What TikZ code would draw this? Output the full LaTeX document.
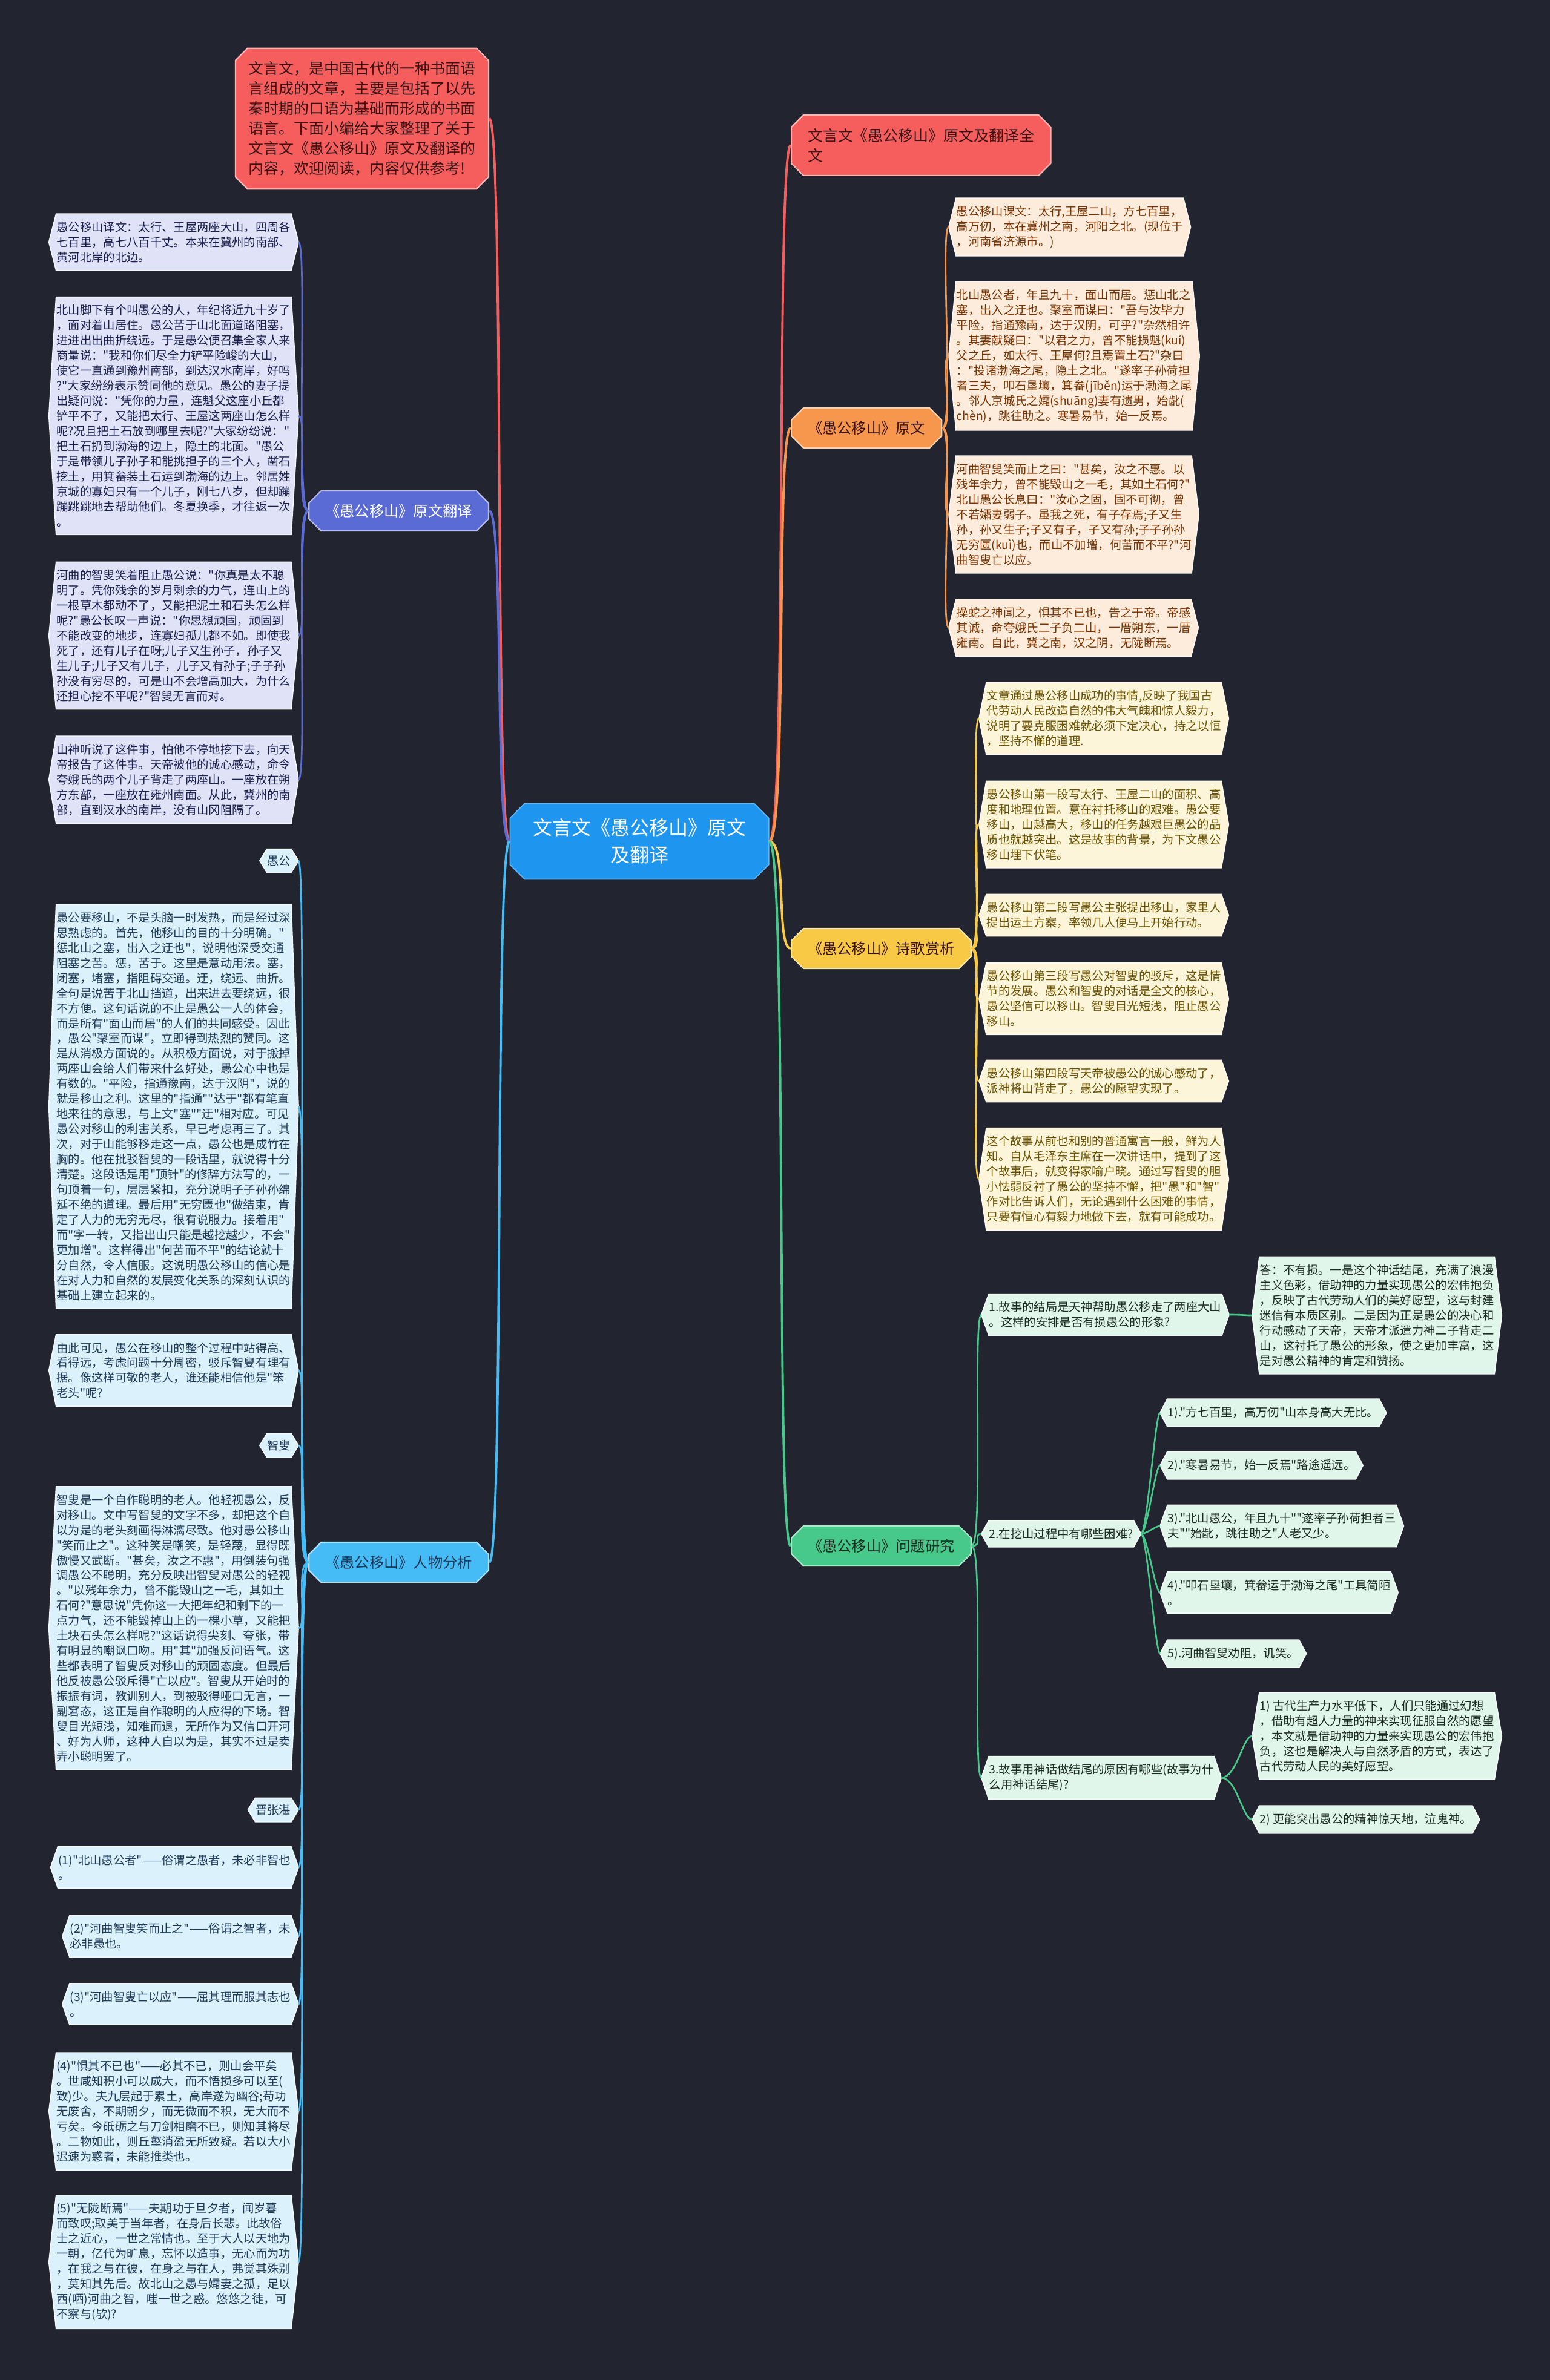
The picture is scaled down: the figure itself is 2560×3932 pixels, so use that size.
\documentclass[tikz,border=0pt]{standalone}
\usepackage{fontspec}
\setmainfont{Noto Sans CJK SC}
\newfontfamily\cjkf{Noto Sans CJK SC}
\usetikzlibrary{calc,shapes.misc}
\definecolor{bgc}{HTML}{22252F}
\definecolor{ctrc}{HTML}{1E95EE}
\definecolor{redc}{HTML}{F65E5E}
\definecolor{redt}{HTML}{3A1414}
\definecolor{orc}{HTML}{F7974E}
\definecolor{orl}{HTML}{FDECDC}
\definecolor{ort}{HTML}{7A3300}
\definecolor{yec}{HTML}{F8C945}
\definecolor{yel}{HTML}{FDF5D9}
\definecolor{yet}{HTML}{6B5200}
\definecolor{grc}{HTML}{48C98C}
\definecolor{grl}{HTML}{E1F6EA}
\definecolor{grt}{HTML}{1C2B22}
\definecolor{blc}{HTML}{5A6BD6}
\definecolor{bll}{HTML}{E0E3F7}
\definecolor{blt}{HTML}{1B2050}
\definecolor{cyc}{HTML}{45BCF5}
\definecolor{cyl}{HTML}{DBF1FB}
\definecolor{cyt}{HTML}{1E3A5A}
\newcommand\leaffont{\cjkf\fontsize{5.5pt}{7.1pt}\selectfont}
\newcommand\brfont{\cjkf\fontsize{6.9pt}{9.1pt}\selectfont}
\newcommand\ctrfont{\cjkf\fontsize{9.1pt}{12.8pt}\selectfont}
\newcommand\notefont{\cjkf\fontsize{7.1pt}{9.4pt}\selectfont}
\newcommand\hexbg[2]{\filldraw[fill=#2,draw=white!60!#2,line width=.5pt] (#1.west) -- ($(#1.north west)+(12,0)$) -- ($(#1.north east)+(-12,0)$) -- (#1.east) -- ($(#1.south east)+(-12,0)$) -- ($(#1.south west)+(12,0)$) -- cycle;}
\pgfdeclarelayer{bg}
\pgfsetlayers{bg,main}
\tikzset{
  ctrv/.style={chamfered rectangle,chamfered rectangle xsep=0.12cm,chamfered rectangle ysep=0.12cm,fill=ctrc,draw=ctrc!70!white,line width=.5pt,text=white,align=center,font=\ctrfont,minimum width=4.27cm,minimum height=1.25cm},
  brv/.style={chamfered rectangle,chamfered rectangle xsep=0.1cm,chamfered rectangle ysep=0.1cm,fill=#1,draw=#1!45!white,line width=.6pt,font=\brfont,inner xsep=0.17cm,minimum height=0.58cm},
  notev/.style={chamfered rectangle,chamfered rectangle xsep=0.1cm,chamfered rectangle ysep=0.1cm,fill=redc,draw=redc!45!white,line width=.6pt,text=redt,align=left,font=\notefont,minimum width=4.16cm,minimum height=2.27cm},
  leafv/.style={align=left,inner xsep=0.12cm,inner ysep=0.12cm,font=\leaffont,text=#1},
  tagv/.style={inner xsep=0.12cm,inner ysep=0.1cm,font=\leaffont,text=cyt},
  lnk/.style={line width=1.1pt,#1},
  sublnk/.style={line width=.75pt,#1}
}
\begin{document}
\begin{tikzpicture}[x=0.01cm,y=-0.01cm]
  \useasboundingbox (0,0) rectangle (2560,3932);
  \node[ctrv] (ctr) at (1056,1390) {文言文《愚公移山》原文\\及翻译};
  \node[notev,anchor=east] (note) at (808,196) {文言文，是中国古代的一种书面语\\言组成的文章，主要是包括了以先\\秦时期的口语为基础而形成的书面\\语言。下面小编给大家整理了关于\\文言文《愚公移山》原文及翻译的\\内容，欢迎阅读，内容仅供参考!};
  % left branches
  \node[brv=blc,text=white,anchor=east] (trans) at (808,844) {《愚公移山》原文翻译};
  \node[brv=cyc,text=cyt,anchor=east] (chars) at (808,2581) {《愚公移山》人物分析};
  \node[leafv=blt,anchor=east] (L1) at (493,400) {愚公移山译文：太行、王屋两座大山，四周各\\七百里，高七八百千丈。本来在冀州的南部、\\黄河北岸的北边。};
  \node[leafv=blt,anchor=east] (L2) at (493,687) {北山脚下有个叫愚公的人，年纪将近九十岁了\\，面对着山居住。愚公苦于山北面道路阻塞，\\进进出出曲折绕远。于是愚公便召集全家人来\\商量说："我和你们尽全力铲平险峻的大山，\\使它一直通到豫州南部，到达汉水南岸，好吗\\?"大家纷纷表示赞同他的意见。愚公的妻子提\\出疑问说："凭你的力量，连魁父这座小丘都\\铲平不了，又能把太行、王屋这两座山怎么样\\呢?况且把土石放到哪里去呢?"大家纷纷说："\\把土石扔到渤海的边上，隐土的北面。"愚公\\于是带领儿子孙子和能挑担子的三个人，凿石\\挖土，用箕畚装土石运到渤海的边上。邻居姓\\京城的寡妇只有一个儿子，刚七八岁，但却蹦\\蹦跳跳地去帮助他们。冬夏换季，才往返一次\\。};
  \node[leafv=blt,anchor=east] (L3) at (493,1050) {河曲的智叟笑着阻止愚公说："你真是太不聪\\明了。凭你残余的岁月剩余的力气，连山上的\\一根草木都动不了，又能把泥土和石头怎么样\\呢?"愚公长叹一声说："你思想顽固，顽固到\\不能改变的地步，连寡妇孤儿都不如。即使我\\死了，还有儿子在呀;儿子又生孙子，孙子又\\生儿子;儿子又有儿子，儿子又有孙子;子子孙\\孙没有穷尽的，可是山不会增高加大，为什么\\还担心挖不平呢?"智叟无言而对。};
  \node[leafv=blt,anchor=east] (L4) at (493,1288) {山神听说了这件事，怕他不停地挖下去，向天\\帝报告了这件事。天帝被他的诚心感动，命令\\夸娥氏的两个儿子背走了两座山。一座放在朔\\方东部，一座放在雍州南面。从此，冀州的南\\部，直到汉水的南岸，没有山冈阻隔了。};
  \node[tagv,anchor=east] (tg1) at (493,1422) {愚公};
  \node[leafv=cyt,anchor=east] (P1) at (493,1828) {愚公要移山，不是头脑一时发热，而是经过深\\思熟虑的。首先，他移山的目的十分明确。"\\惩北山之塞，出入之迂也"，说明他深受交通\\阻塞之苦。惩，苦于。这里是意动用法。塞，\\闭塞，堵塞，指阻碍交通。迂，绕远、曲折。\\全句是说苦于北山挡道，出来进去要绕远，很\\不方便。这句话说的不止是愚公一人的体会，\\而是所有"面山而居"的人们的共同感受。因此\\，愚公"聚室而谋"，立即得到热烈的赞同。这\\是从消极方面说的。从积极方面说，对于搬掉\\两座山会给人们带来什么好处，愚公心中也是\\有数的。"平险，指通豫南，达于汉阴"，说的\\就是移山之利。这里的"指通""达于"都有笔直\\地来往的意思，与上文"塞""迂"相对应。可见\\愚公对移山的利害关系，早已考虑再三了。其\\次，对于山能够移走这一点，愚公也是成竹在\\胸的。他在批驳智叟的一段话里，就说得十分\\清楚。这段话是用"顶针"的修辞方法写的，一\\句顶着一句，层层紧扣，充分说明子子孙孙绵\\延不绝的道理。最后用"无穷匮也"做结束，肯\\定了人力的无穷无尽，很有说服力。接着用"\\而"字一转，又指出山只能是越挖越少，不会"\\更加增"。这样得出"何苦而不平"的结论就十\\分自然，令人信服。这说明愚公移山的信心是\\在对人力和自然的发展变化关系的深刻认识的\\基础上建立起来的。};
  \node[leafv=cyt,anchor=east] (P2) at (493,2264) {由此可见，愚公在移山的整个过程中站得高、\\看得远，考虑问题十分周密，驳斥智叟有理有\\据。像这样可敬的老人，谁还能相信他是"笨\\老头"呢?};
  \node[tagv,anchor=east] (tg2) at (493,2388) {智叟};
  \node[leafv=cyt,anchor=east] (P3) at (493,2690) {智叟是一个自作聪明的老人。他轻视愚公，反\\对移山。文中写智叟的文字不多，却把这个自\\以为是的老头刻画得淋漓尽致。他对愚公移山\\"笑而止之"。这种笑是嘲笑，是轻蔑，显得既\\傲慢又武断。"甚矣，汝之不惠"，用倒装句强\\调愚公不聪明，充分反映出智叟对愚公的轻视\\。"以残年余力，曾不能毁山之一毛，其如土\\石何?"意思说"凭你这一大把年纪和剩下的一\\点力气，还不能毁掉山上的一棵小草，又能把\\土块石头怎么样呢?"这话说得尖刻、夸张，带\\有明显的嘲讽口吻。用"其"加强反问语气。这\\些都表明了智叟反对移山的顽固态度。但最后\\他反被愚公驳斥得"亡以应"。智叟从开始时的\\振振有词，教训别人，到被驳得哑口无言，一\\副窘态，这正是自作聪明的人应得的下场。智\\叟目光短浅，知难而退，无所作为又信口开河\\、好为人师，这种人自以为是，其实不过是卖\\弄小聪明罢了。};
  \node[tagv,anchor=east] (tg3) at (493,2990) {晋张湛};
  \node[leafv=cyt,anchor=east] (Z1) at (493,3085) {(1)"北山愚公者"——俗谓之愚者，未必非智也\\。};
  \node[leafv=cyt,anchor=east] (Z2) at (493,3199) {(2)"河曲智叟笑而止之"——俗谓之智者，未\\必非愚也。};
  \node[leafv=cyt,anchor=east] (Z3) at (493,3311) {(3)"河曲智叟亡以应"——屈其理而服其志也\\。};
  \node[leafv=cyt,anchor=east] (Z4) at (493,3488) {(4)"惧其不已也"——必其不已，则山会平矣\\。世咸知积小可以成大，而不悟损多可以至(\\致)少。夫九层起于累土，高岸遂为幽谷;苟功\\无废舍，不期朝夕，而无微而不积，无大而不\\亏矣。今砥砺之与刀剑相磨不已，则知其将尽\\。二物如此，则丘壑消盈无所致疑。若以大小\\迟速为惑者，未能推类也。};
  \node[leafv=cyt,anchor=east] (Z5) at (493,3737) {(5)"无陇断焉"——夫期功于旦夕者，闻岁暮\\而致叹;取美于当年者，在身后长悲。此故俗\\士之近心，一世之常情也。至于大人以天地为\\一朝，亿代为旷息，忘怀以造事，无心而为功\\，在我之与在彼，在身之与在人，弗觉其殊别\\，莫知其先后。故北山之愚与孀妻之孤，足以\\西(哂)河曲之智，嗤一世之惑。悠悠之徒，可\\不察与(欤)?};
  % right branches
  \node[brv=redc,text=redt,font=\notefont,align=left,minimum width=4.16cm,minimum height=0.91cm,anchor=west] (full) at (1306,240) {文言文《愚公移山》原文及翻译全\\文};
  \node[brv=orc,text=redt,anchor=west] (orig) at (1306,707) {《愚公移山》原文};
  \node[brv=yec,text=redt,anchor=west] (poem) at (1306,1567) {《愚公移山》诗歌赏析};
  \node[brv=grc,text=grt,anchor=west] (ques) at (1306,2554) {《愚公移山》问题研究};
  \node[leafv=ort,anchor=west] (O1) at (1567,375) {愚公移山课文：太行,王屋二山，方七百里，\\高万仞，本在冀州之南，河阳之北。(现位于\\，河南省济源市。)};
  \node[leafv=ort,anchor=west] (O2) at (1567,588) {北山愚公者，年且九十，面山而居。惩山北之\\塞，出入之迂也。聚室而谋曰："吾与汝毕力\\平险，指通豫南，达于汉阴，可乎?"杂然相许\\。其妻献疑曰："以君之力，曾不能损魁(kuí)\\父之丘，如太行、王屋何?且焉置土石?"杂曰\\："投诸渤海之尾，隐土之北。"遂率子孙荷担\\者三夫，叩石垦壤，箕畚(jīběn)运于渤海之尾\\。邻人京城氏之孀(shuāng)妻有遗男，始龀(\\chèn)，跳往助之。寒暑易节，始一反焉。};
  \node[leafv=ort,anchor=west] (O3) at (1567,850) {河曲智叟笑而止之曰："甚矣，汝之不惠。以\\残年余力，曾不能毁山之一毛，其如土石何?"\\北山愚公长息曰："汝心之固，固不可彻，曾\\不若孀妻弱子。虽我之死，有子存焉;子又生\\孙，孙又生子;子又有子，子又有孙;子子孙孙\\无穷匮(kuì)也，而山不加增，何苦而不平?"河\\曲智叟亡以应。};
  \node[leafv=ort,anchor=west] (O4) at (1567,1037) {操蛇之神闻之，惧其不已也，告之于帝。帝感\\其诚，命夸娥氏二子负二山，一厝朔东，一厝\\雍南。自此，冀之南，汉之阴，无陇断焉。};
  \node[leafv=yet,anchor=west] (Y1) at (1617,1187) {文章通过愚公移山成功的事情,反映了我国古\\代劳动人民改造自然的伟大气魄和惊人毅力，\\说明了要克服困难就必须下定决心，持之以恒\\，坚持不懈的道理.};
  \node[leafv=yet,anchor=west] (Y2) at (1617,1362) {愚公移山第一段写太行、王屋二山的面积、高\\度和地理位置。意在衬托移山的艰难。愚公要\\移山，山越高大，移山的任务越艰巨愚公的品\\质也就越突出。这是故事的背景，为下文愚公\\移山埋下伏笔。};
  \node[leafv=yet,anchor=west] (Y3) at (1617,1512) {愚公移山第二段写愚公主张提出移山，家里人\\提出运土方案，率领几人便马上开始行动。};
  \node[leafv=yet,anchor=west] (Y4) at (1617,1650) {愚公移山第三段写愚公对智叟的驳斥，这是情\\节的发展。愚公和智叟的对话是全文的核心，\\愚公坚信可以移山。智叟目光短浅，阻止愚公\\移山。};
  \node[leafv=yet,anchor=west] (Y5) at (1617,1786) {愚公移山第四段写天帝被愚公的诚心感动了，\\派神将山背走了，愚公的愿望实现了。};
  \node[leafv=yet,anchor=west] (Y6) at (1617,1948) {这个故事从前也和别的普通寓言一般，鲜为人\\知。自从毛泽东主席在一次讲话中，提到了这\\个故事后，就变得家喻户晓。通过写智叟的胆\\小怯弱反衬了愚公的坚持不懈，把"愚"和"智"\\作对比告诉人们，无论遇到什么困难的事情，\\只要有恒心有毅力地做下去，就有可能成功。};
  \node[leafv=grt,anchor=west] (G1) at (1621,2172) {1.故事的结局是天神帮助愚公移走了两座大山\\。这样的安排是否有损愚公的形象?};
  \node[leafv=grt,anchor=west] (G1a) at (2068,2173) {答：不有损。一是这个神话结尾，充满了浪漫\\主义色彩，借助神的力量实现愚公的宏伟抱负\\，反映了古代劳动人们的美好愿望，这与封建\\迷信有本质区别。二是因为正是愚公的决心和\\行动感动了天帝，天帝才派遣力神二子背走二\\山，这衬托了愚公的形象，使之更加丰富，这\\是对愚公精神的肯定和赞扬。};
  \node[leafv=grt,anchor=west] (G2) at (1621,2534) {2.在挖山过程中有哪些困难?};
  \node[leafv=grt,anchor=west] (G2a) at (1916,2334) {1)."方七百里，高万仞"山本身高大无比。};
  \node[leafv=grt,anchor=west] (G2b) at (1916,2421) {2)."寒暑易节，始一反焉"路途遥远。};
  \node[leafv=grt,anchor=west] (G2c) at (1916,2521) {3)."北山愚公，年且九十""遂率子孙荷担者三\\夫""始龀，跳往助之"人老又少。};
  \node[leafv=grt,anchor=west] (G2d) at (1916,2631) {4)."叩石垦壤，箕畚运于渤海之尾"工具简陋\\。};
  \node[leafv=grt,anchor=west] (G2e) at (1916,2732) {5).河曲智叟劝阻，讥笑。};
  \node[leafv=grt,anchor=west] (G3) at (1621,2937) {3.故事用神话做结尾的原因有哪些(故事为什\\么用神话结尾)?};
  \node[leafv=grt,anchor=west] (G3a) at (2068,2868) {1) 古代生产力水平低下，人们只能通过幻想\\，借助有超人力量的神来实现征服自然的愿望\\，本文就是借助神的力量来实现愚公的宏伟抱\\负，这也是解决人与自然矛盾的方式，表达了\\古代劳动人民的美好愿望。};
  \node[leafv=grt,anchor=west] (G3b) at (2068,3006) {2) 更能突出愚公的精神惊天地，泣鬼神。};
  \begin{pgfonlayer}{bg}
    \fill[bgc] (0,0) rectangle (2560,3932);
    \foreach \c in {L1,L2,L3,L4} \hexbg{\c}{bll};
    \foreach \c in {tg1,tg2,tg3,P1,P2,P3,Z1,Z2,Z3,Z4,Z5} \hexbg{\c}{cyl};
    \foreach \c in {O1,O2,O3,O4} \hexbg{\c}{orl};
    \foreach \c in {Y1,Y2,Y3,Y4,Y5,Y6} \hexbg{\c}{yel};
    \foreach \c in {G1,G1a,G2,G2a,G2b,G2c,G2d,G2e,G3,G3a,G3b} \hexbg{\c}{grl};
  \end{pgfonlayer}
  \draw[lnk=redc] (ctr.west) .. controls +(-25,0) and +(25,0) .. (note.east);
  \draw[lnk=blc] (ctr.west) .. controls +(-25,0) and +(25,0) .. (trans.east);
  \draw[lnk=cyc] (ctr.west) .. controls +(-25,0) and +(25,0) .. (chars.east);
  \draw[lnk=redc] (ctr.east) .. controls +(30,0) and +(-25,0) .. (full.west);
  \draw[lnk=orc] (ctr.east) .. controls +(30,0) and +(-25,0) .. (orig.west);
  \draw[lnk=yec] (ctr.east) .. controls +(30,0) and +(-25,0) .. (poem.west);
  \draw[lnk=grc] (ctr.east) .. controls +(30,0) and +(-25,0) .. (ques.west);
  \foreach \c in {L1,L2,L3,L4}
    \draw[sublnk=blc] (trans.west) .. controls +(-22,0) and +(15,0) .. (\c.east);
  \foreach \c in {tg1,P1,P2,tg2,P3,tg3,Z1,Z2,Z3,Z4,Z5}
    \draw[sublnk=cyc] (chars.west) .. controls +(-22,0) and +(15,0) .. (\c.east);
  \foreach \c in {O1,O2,O3,O4}
    \draw[sublnk=orc] (orig.east) .. controls +(20,0) and +(-15,0) .. (\c.west);
  \foreach \c in {Y1,Y2,Y3,Y4,Y5,Y6}
    \draw[sublnk=yec] (poem.east) .. controls +(20,0) and +(-15,0) .. (\c.west);
  \foreach \c in {G1,G2,G3}
    \draw[sublnk=grc] (ques.east) .. controls +(20,0) and +(-15,0) .. (\c.west);
  \draw[sublnk=grc] (G1.east) .. controls +(25,0) and +(-15,0) .. (G1a.west);
  \foreach \c in {G2a,G2b,G2c,G2d,G2e}
    \draw[sublnk=grc] (G2.east) .. controls +(10,0) and +(-8,0) .. (\c.west);
  \foreach \c in {G3a,G3b}
    \draw[sublnk=grc] (G3.east) .. controls +(25,0) and +(-15,0) .. (\c.west);
\end{tikzpicture}
\end{document}
